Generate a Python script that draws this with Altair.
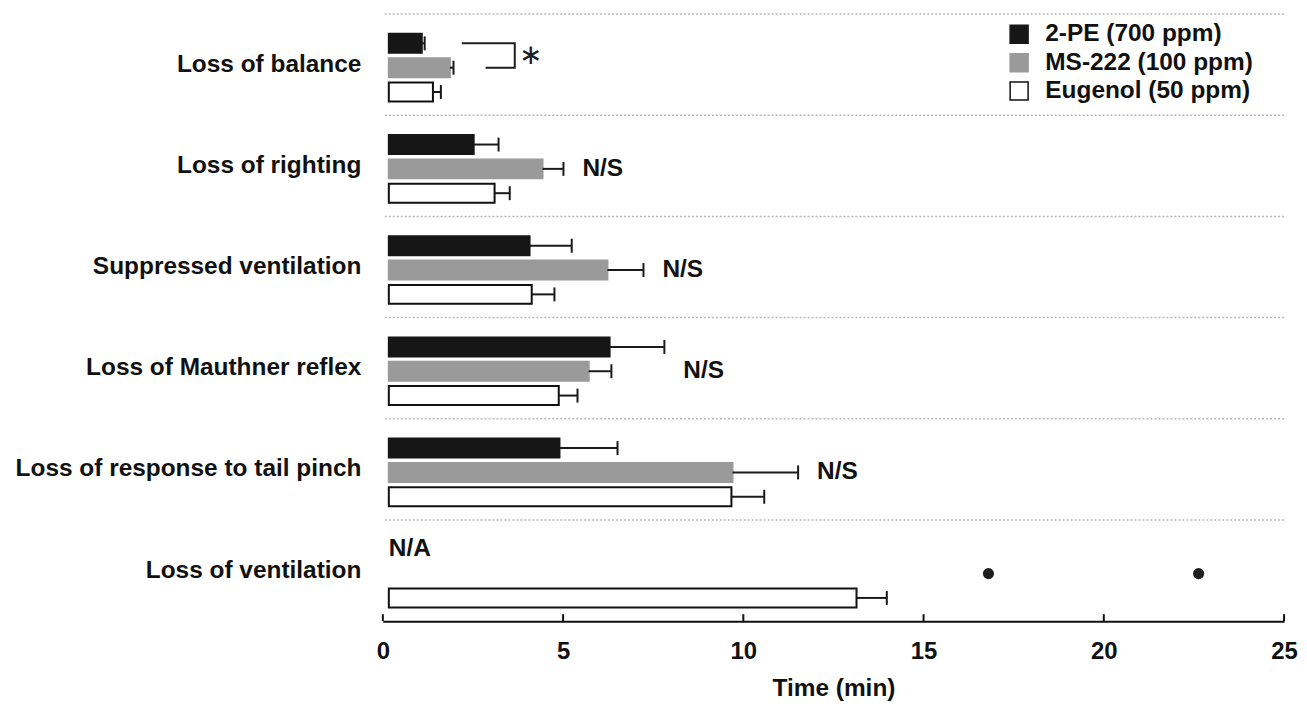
import altair as alt
import pandas as pd

FONT = "Liberation Sans"

categories = [
    "Loss of balance",
    "Loss of righting",
    "Suppressed ventilation",
    "Loss of Mauthner reflex",
    "Loss of response to tail pinch",
    "Loss of ventilation",
]
series = ["2-PE (700 ppm)", "MS-222 (100 ppm)", "Eugenol (50 ppm)"]

pe_mean = [1.08, 2.52, 4.07, 6.29, 4.90, None]
pe_sem = [0.08, 0.69, 1.17, 1.52, 1.61, None]
ms_mean = [1.86, 4.43, 6.23, 5.71, 9.70, None]
ms_sem = [0.10, 0.58, 1.00, 0.63, 1.82, None]
eu_mean = [1.39, 3.10, 4.13, 4.88, 9.67, 13.14]
eu_sem = [0.22, 0.42, 0.63, 0.52, 0.91, 0.84]

ms_vent_points = [16.8, 22.63]          # individual MS-222 values, loss of ventilation
row_notes = ["", "N/S", "N/S", "N/S", "N/S", ""]
na_note = "N/A"
x_ticks = [0, 5, 10, 15, 20, 25]

bracket_x = [2.19, 3.66, 3.66, 2.85]    # significance bracket, loss of balance
bracket_series = [series[0], series[0], series[1], series[1]]
star_x = 4.1

fills = ["#161616", "#9a9a9a", "#ffffff"]
strokes = ["#161616", "#9a9a9a", "#111111"]

# ---- tables ----
rows = []
for s, means, sems in zip(series, [pe_mean, ms_mean, eu_mean], [pe_sem, ms_sem, eu_sem]):
    for c, m, e in zip(categories, means, sems):
        if m is not None:
            rows.append({"cat": c, "series": s, "mean": m, "upper": m + e})
bars_df = pd.DataFrame(rows)

notes_rows = []
for c, n in zip(categories, row_notes):
    if n:
        notes_rows.append({"cat": c, "series": series[1], "text": n,
                           "x": bars_df[bars_df.cat == c]["upper"].max()})
notes_df = pd.DataFrame(notes_rows)
na_df = pd.DataFrame([{"cat": categories[-1], "series": series[0], "text": na_note, "x": 0}])
pts_df = pd.DataFrame({"cat": categories[-1], "series": series[1], "x": ms_vent_points})
br_df = pd.DataFrame({"cat": categories[0], "series": bracket_series, "x": bracket_x,
                      "i": list(range(len(bracket_x)))})
grid_df = pd.DataFrame({"cat": categories})
ticks_df = pd.DataFrame({"t": x_ticks})

yscale = alt.Scale(domain=categories, paddingInner=0, paddingOuter=0)
oscale = alt.Scale(domain=series, paddingInner=0.22, paddingOuter=0.69, align=0.59)
xscale = alt.Scale(domain=[0, 25], nice=False)

x_axis = alt.Axis(values=x_ticks, format="d", domainColor="#111111", domainWidth=2,
                  ticks=False, tickSize=0, labelFontSize=24, labelFontWeight="bold",
                  labelFont=FONT, labelColor="#111111", labelPadding=18, labelFlush=False,
                  title="Time (min)", titleFontSize=24.5, titleFontWeight="bold",
                  titleFont=FONT, titleColor="#111111", titlePadding=14, grid=False)
y_axis = alt.Axis(title=None, ticks=False, domain=False, labelFontSize=24.5,
                  labelFontWeight="bold", labelFont=FONT, labelColor="#111111",
                  labelPadding=22, labelLimit=600, grid=False)


def Y(**kw):
    return alt.Y("cat:N", scale=yscale, sort=categories, axis=y_axis, **kw)


def YO():
    return alt.YOffset("series:N", scale=oscale, sort=series)


def X(field):
    return alt.X(field, scale=xscale, axis=x_axis)


grid = alt.Chart(grid_df).mark_rule(color="#b8b8b8", strokeDash=[2, 2], strokeWidth=1.5).encode(
    y=Y(bandPosition=0)
)

bars = alt.Chart(bars_df).mark_bar(strokeWidth=2, x2Offset=6, opacity=1).encode(
    x=X("mean:Q"),
    x2=alt.datum(0),
    y=Y(),
    yOffset=YO(),
    fill=alt.Fill("series:N", scale=alt.Scale(domain=series, range=fills), title=None),
    stroke=alt.Stroke("series:N", scale=alt.Scale(domain=series, range=strokes), title=None),
)

err = alt.Chart(bars_df).mark_rule(color="#1a1a1a", strokeWidth=2).encode(
    x=X("mean:Q"), x2="upper:Q", y=Y(), yOffset=YO()
)
caps = alt.Chart(bars_df).mark_tick(color="#1a1a1a", thickness=2, size=14, opacity=1).encode(
    x=X("upper:Q"), y=Y(), yOffset=YO()
)

notes = alt.Chart(notes_df).mark_text(align="left", baseline="middle", dx=19, fontSize=24.5,
                                      fontWeight="bold", font=FONT, color="#111111").encode(
    x=X("x:Q"), y=Y(), yOffset=YO(), text="text:N"
)
na = alt.Chart(na_df).mark_text(align="left", baseline="middle", dx=6, fontSize=24.5,
                                fontWeight="bold", font=FONT, color="#111111").encode(
    x=X("x:Q"), y=Y(), yOffset=YO(), text="text:N"
)
pts = alt.Chart(pts_df).mark_circle(size=125, color="#1e1e1e", opacity=1).encode(
    x=X("x:Q"), y=Y(), yOffset=YO()
)
bracket = alt.Chart(br_df).mark_line(color="#1e1e1e", strokeWidth=2).encode(
    x=X("x:Q"), y=Y(), yOffset=YO(), order="i:Q"
)
star = alt.Chart(grid_df.head(1)).mark_text(font="DejaVu Sans", fontSize=28, baseline="middle",
                                            color="#1e1e1e", dy=-9).encode(
    x=alt.datum(star_x), y=alt.datum(categories[0]), text=alt.value("\u2217")
)
xticks = alt.Chart(ticks_df).mark_rule(color="#111111", strokeWidth=2).encode(
    x=X("t:Q"), y=alt.value(602), y2=alt.value(609)
)

chart = alt.layer(grid, bars, err, caps, notes, na, pts, bracket, star, xticks).properties(
    width=904, height=609,
    autosize=alt.AutoSizeParams(type="none"),
    padding={"left": 376, "top": 5, "right": 15, "bottom": 84},
).configure_view(stroke=None).configure_legend(
    orient="none", legendX=626, legendY=8, padding=0, symbolType="square",
    symbolSize=324, symbolStrokeWidth=1.5, labelFont=FONT, labelFontSize=24.5,
    labelFontWeight="bold", labelColor="#111111", labelOffset=14, rowPadding=2.5,
    labelLimit=400, symbolOpacity=1,
)

chart.save("out.html", embed_options={"renderer": "svg", "actions": False})
